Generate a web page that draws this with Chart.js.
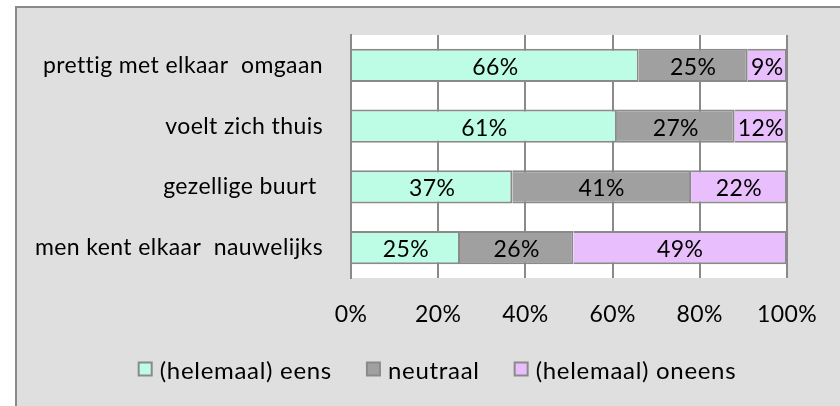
<!DOCTYPE html>
<html>
<head>
<meta charset="utf-8">
<script src="https://cdn.jsdelivr.net/npm/chart.js@4"></script>
<style>
  html, body { margin: 0; padding: 0; background: #ffffff; }
  #wrap { width: 840px; height: 406px; position: relative; }
</style>
</head>
<body>
<div id="wrap"><canvas id="c" width="840" height="406"></canvas></div>
<script>
const categories = ["prettig met elkaar  omgaan", "voelt zich thuis", "gezellige buurt ", "men kent elkaar  nauwelijks"];
const seriesNames = ["(helemaal) eens", "neutraal", "(helemaal) oneens"];
const eens = [66, 61, 37, 25];
const neutraal = [25, 27, 41, 26];
const oneens = [9, 12, 22, 49];
const tickValues = [0, 20, 40, 60, 80, 100];

const FONT = "Lato";
const colors = ["#bdfce5", "#a0a0a0", "#e8befc"];
const edge = "#8a8a8a";

const framePlugin = {
  id: "frame",
  beforeUpdate(chart) { chart.ctx.letterSpacing = "0.4px"; },
  beforeDraw(chart) {
    const ctx = chart.ctx, a = chart.chartArea;
    ctx.letterSpacing = "0.4px";
    ctx.save();
    ctx.fillStyle = "#ffffff";
    ctx.fillRect(0, 0, chart.width, chart.height);
    ctx.fillStyle = "#dfdfdf";
    ctx.fillRect(16, 7, chart.width - 16, chart.height - 7);
    ctx.strokeStyle = edge;
    ctx.lineWidth = 2;
    ctx.beginPath();
    ctx.moveTo(16, chart.height);
    ctx.lineTo(16, 7);
    ctx.lineTo(chart.width, 7);
    ctx.stroke();
    ctx.fillStyle = "#ffffff";
    ctx.fillRect(a.left, a.top, a.right - a.left, a.bottom - a.top);
    ctx.restore();
  }
};

const labelPlugin = {
  id: "vlabels",
  afterDatasetsDraw(chart) {
    const ctx = chart.ctx;
    ctx.save();
    ctx.font = "23px " + FONT;
    ctx.fillStyle = "#000";
    ctx.textAlign = "center";
    ctx.textBaseline = "middle";
    chart.data.datasets.forEach((ds, i) => {
      const meta = chart.getDatasetMeta(i);
      meta.data.forEach((bar, j) => {
        const cx = (bar.x + bar.base) / 2;
        ctx.fillText(ds.data[j] + "%", cx, bar.y + 2);
      });
    });
    ctx.restore();
  }
};

const legendPlugin = {
  id: "mylegend",
  afterDraw(chart) {
    const ctx = chart.ctx;
    ctx.save();
    ctx.font = "24px " + FONT;
    ctx.letterSpacing = "0.7px";
    ctx.textBaseline = "middle";
    ctx.textAlign = "left";
    const box = 13, gapText = 8, gapItem = 35;
    const ds = chart.data.datasets;
    const widths = ds.map(d => box + gapText + ctx.measureText(d.label).width);
    const total = widths.reduce((s, w) => s + w, 0) + gapItem * (ds.length - 1);
    let x = 437.5 - total / 2;
    const yc = 370;
    ds.forEach((d, i) => {
      ctx.fillStyle = d.backgroundColor;
      ctx.fillRect(x, yc - box / 2 - 1, box, box);
      ctx.strokeStyle = edge;
      ctx.lineWidth = 2;
      ctx.strokeRect(x, yc - box / 2 - 1, box, box);
      ctx.fillStyle = "#000";
      ctx.fillText(d.label, x + box + gapText, yc + 1);
      x += widths[i] + gapItem;
    });
    ctx.restore();
  }
};

new Chart(document.getElementById("c"), {
  type: "bar",
  data: {
    labels: categories,
    datasets: [
      { label: seriesNames[0], data: eens, backgroundColor: colors[0] },
      { label: seriesNames[1], data: neutraal, backgroundColor: colors[1] },
      { label: seriesNames[2], data: oneens, backgroundColor: colors[2] }
    ].map(d => Object.assign(d, {
      borderColor: edge, borderWidth: 2,
      categoryPercentage: 1, barPercentage: 0.55
    }))
  },
  options: {
    indexAxis: "y",
    responsive: false,
    animation: false,
    layout: { padding: { top: 35, left: 16, right: 51, bottom: 0 } },
    plugins: { legend: { display: false }, tooltip: { enabled: false } },
    scales: {
      x: {
        stacked: true, min: 0, max: 100,
        afterBuildTicks(scale) { scale.ticks = tickValues.map(v => ({ value: v })); },
        afterFit(scale) { scale.height = 128; },
        ticks: { callback: v => v + "%", color: "#000", padding: 23, maxRotation: 0,
                 font: { family: FONT, size: 23 } },
        grid: { color: edge, lineWidth: 2, drawTicks: false },
        border: { display: false }
      },
      y: {
        stacked: true,
        afterFit(scale) { scale.width = 335; scale.paddingTop = 0; scale.paddingBottom = 0; },
        ticks: { color: "#000", padding: 28, font: { family: FONT, size: 23 } },
        grid: { display: false, drawTicks: false },
        border: { display: true, color: edge, width: 2 }
      }
    }
  },
  plugins: [framePlugin, labelPlugin, legendPlugin]
});
</script>
</body>
</html>
